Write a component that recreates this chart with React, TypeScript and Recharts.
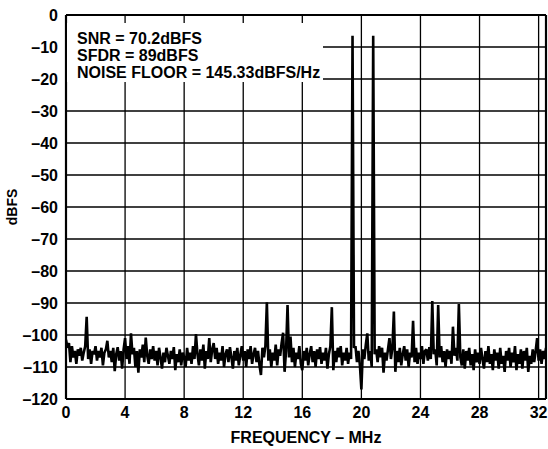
import React from 'react';
import { LineChart, Line, XAxis, YAxis, CartesianGrid, ReferenceLine } from 'recharts';

// FFT bin spacing (MHz) and amplitude per bin (dBFS), bins 0.0 .. 32.5 MHz
const BIN_MHZ = 0.1;
const AMPLITUDES_DBFS: number[] = [
  -101.5, -104, -102.5, -108.5, -103.5, -107, -105, -109, -104.5, -106.5,
  -104, -108, -105.5, -103.5, -94.3, -107.5, -104.5, -109, -105, -106,
  -103.5, -108, -105, -107, -104, -109.5, -105.5, -104.5, -101.8, -107,
  -105, -108.5, -104, -111.3, -106, -103.8, -108, -105, -110.5, -104.5,
  -101, -107.5, -103.5, -109, -99.5, -106, -104, -110, -105, -111.8,
  -104.5, -107, -103, -108.5, -100.8, -106.5, -109, -104.5, -107.5, -103.5,
  -108, -105, -109.5, -104, -107, -110.5, -105.5, -108.5, -104, -106.5,
  -109, -105, -107.5, -103.8, -111, -106, -108.5, -104.5, -109.5, -105.5,
  -107, -110, -104, -108, -105.5, -109, -103.5, -107.5, -99.7, -106,
  -109.5, -104.5, -108, -103, -110.5, -105, -107.5, -101, -108.5, -104.5,
  -102.5, -107.5, -104, -109, -105.5, -108, -103.5, -110, -106, -104.5,
  -108.5, -103.8, -107, -110.5, -105, -108, -104, -109.5, -106.5, -103.5,
  -108, -105, -110, -104.5, -107.5, -103.5, -109, -106, -104, -108.5,
  -105, -109.5, -112.5, -104, -107, -103.5, -89.8, -108, -104.5, -110,
  -105.5, -108, -103, -109.5, -104.5, -106.5, -102.5, -99.3, -111.5, -105,
  -90.6, -107, -100.5, -108.5, -104, -110, -105.5, -107.5, -103.5, -109,
  -111, -105, -108, -104, -109.5, -106, -103.5, -108.5, -105, -110,
  -104.5, -107.5, -103.8, -109, -105.5, -108, -104, -110.5, -106, -103.5,
  -91.3, -111, -105, -108.5, -104, -107, -103.5, -109.5, -105.5, -108,
  -104, -109, -105.5, -107.5, -6.5, -104, -103.5, -108.5, -105, -109.5,
  -117, -104.5, -107.5, -103, -99.5, -108, -105, -110, -6.5, -106,
  -104.5, -108.5, -103.5, -107, -104, -111.8, -105.5, -108, -104.5, -101,
  -107.5, -104, -92.7, -111.5, -105, -108.5, -104, -109.5, -106, -103.5,
  -108, -104.5, -110, -105.5, -107, -95.6, -108.5, -104, -109, -105.5,
  -107.5, -103.5, -109, -105, -104.5, -108, -103.8, -107.5, -89.4, -106,
  -104.5, -109.5, -90.6, -107, -103.5, -108.5, -105, -110, -104.5, -107.5,
  -105, -109, -97.4, -106.5, -104, -108, -90.3, -107, -109.5, -104.5,
  -110.5, -105, -108, -104, -109.5, -106, -111, -104.5, -108.5, -105.5,
  -109, -104, -107.5, -110.5, -105, -108.5, -103.5, -109, -106, -111,
  -104.5, -108, -105.5, -110.5, -104, -109, -106.5, -111.5, -105, -108,
  -104, -110, -105.5, -108.5, -103.5, -111, -106, -109, -104.5, -110.5,
  -105, -108, -104, -111.5, -106.5, -109, -104.5, -108.5, -105, -101,
  -108, -104.5, -109, -105, -107.5, -104,
];

const X_TICKS = [0, 4, 8, 12, 16, 20, 24, 28, 32];
const Y_TICKS = [0, -10, -20, -30, -40, -50, -60, -70, -80, -90, -100, -110, -120];
const X_DOMAIN: [number, number] = [0, 32.5];
const Y_DOMAIN: [number, number] = [-120, 0];
const ANNOTATIONS = ['SNR = 70.2dBFS', 'SFDR = 89dBFS', 'NOISE FLOOR = 145.33dBFS/Hz'];
const X_TITLE = 'FREQUENCY – MHz';
const Y_TITLE = 'dBFS';

const data = AMPLITUDES_DBFS.map((v, i) => ({ f: Math.round(i * BIN_MHZ * 10) / 10, v }));

const FONT = '"Liberation Sans", Arial, Helvetica, sans-serif';

const fmtY = (v: number) => (v < 0 ? '–' + Math.abs(v) : String(v));

export default function App() {
  return (
    <div style={{ position: 'absolute', left: 0, top: 0, width: 548, height: 449, background: '#fff', fontFamily: FONT }}>
      <LineChart width={548} height={449} data={data} margin={{ top: 15, right: 2, bottom: 0, left: 0 }}>
        <CartesianGrid stroke="#000" strokeWidth={1.3} verticalValues={X_TICKS} horizontalValues={Y_TICKS} />
        <XAxis
          dataKey="f"
          type="number"
          domain={X_DOMAIN}
          ticks={X_TICKS}
          allowDataOverflow
          height={50}
          tickLine={false}
          axisLine={{ stroke: '#000', strokeWidth: 2.2 }}
          tick={{ fill: '#000', fontSize: 16, fontWeight: 700, fontFamily: FONT }}
          interval={0}
        />
        <YAxis
          type="number"
          domain={Y_DOMAIN}
          ticks={Y_TICKS}
          width={66}
          tickLine={false}
          axisLine={{ stroke: '#000', strokeWidth: 2.2 }}
          tickFormatter={fmtY}
          tick={{ fill: '#000', fontSize: 16, fontWeight: 700, fontFamily: FONT }}
          interval={0}
        />
        <ReferenceLine y={0} stroke="#000" strokeWidth={2.2} />
        <ReferenceLine x={32.5} stroke="#000" strokeWidth={2.2} />
        <Line dataKey="v" type="linear" stroke="#000" strokeWidth={2.6} strokeLinejoin="miter" strokeMiterlimit={2} dot={false} isAnimationActive={false} />
      </LineChart>
      <div
        style={{
          position: 'absolute', left: 67, top: 23, width: 256, height: 59, background: '#fff',
          paddingLeft: 10, paddingTop: 7, boxSizing: 'border-box', fontWeight: 700, fontSize: 16, lineHeight: '17px', color: '#000',
        }}
      >
        {ANNOTATIONS.map((t) => (
          <div key={t} style={{ whiteSpace: 'nowrap' }}>{t}</div>
        ))}
      </div>
      <div style={{ position: 'absolute', left: 66, width: 480, top: 429, textAlign: 'center', fontWeight: 700, fontSize: 16, color: '#000' }}>
        {X_TITLE}
      </div>
      <div
        style={{
          position: 'absolute', left: 12, top: 207, transform: 'translate(-50%, -50%) rotate(-90deg)',
          fontWeight: 700, fontSize: 14, color: '#000', whiteSpace: 'nowrap',
        }}
      >
        {Y_TITLE}
      </div>
    </div>
  );
}
